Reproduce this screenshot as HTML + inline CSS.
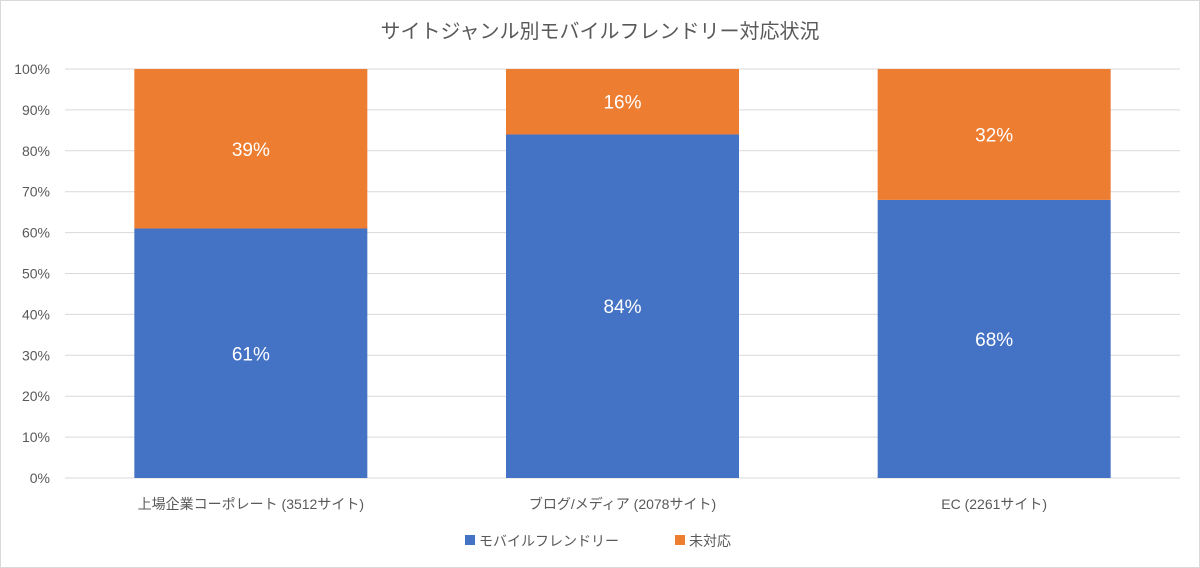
<!DOCTYPE html>
<html><head><meta charset="utf-8"><style>
body{margin:0;background:#fff;}
svg{display:block;font-family:"Liberation Sans","Noto Sans CJK JP",sans-serif;}
</style></head><body>
<svg id="chart" width="1200" height="568">
<rect x="0.5" y="0.5" width="1199" height="567" fill="#fff" stroke="#d9d9d9"/>
<text x="600" y="38" text-anchor="middle" font-size="20" fill="#595959">サイトジャンル別モバイルフレンドリー対応状況</text>
<g id="grid"></g><g id="bars"></g><g id="xlabels"></g>
<g>
<rect x="465" y="535" width="10" height="10" fill="#4472C4"/>
<text x="479" y="546" font-size="14" fill="#595959">モバイルフレンドリー</text>
<rect x="675" y="535" width="10" height="10" fill="#ED7D31"/>
<text x="689" y="546" font-size="14" fill="#595959">未対応</text>
</g>
</svg>
<script>
const categories=["上場企業コーポレート (3512サイト)","ブログ/メディア (2078サイト)","EC (2261サイト)"];
const friendly=[61,84,68];
const unsupported=[39,16,32];
const ticks=[0,10,20,30,40,50,60,70,80,90,100];
const NS="http://www.w3.org/2000/svg";
const x0=65,x1=1180,yTop=69,yBot=478;
const y=v=>yBot-(yBot-yTop)*v/100;
const band=(x1-x0)/categories.length;
const bw=233;
function mk(t,a,p){const e=document.createElementNS(NS,t);for(const k in a)e.setAttribute(k,a[k]);p.appendChild(e);return e;}
const grid=document.getElementById("grid");
ticks.forEach(t=>{
 const l=mk("line",{x1:x0,x2:x1,y1:y(t),y2:y(t),stroke:"#d9d9d9","stroke-width":1},grid);
 
 
 const tx=mk("text",{x:50,y:y(t)+5,"text-anchor":"end","font-size":14,fill:"#595959"},grid);
 tx.textContent=t+"%";
 
 
});
const bars=document.getElementById("bars"),xl=document.getElementById("xlabels");
categories.forEach((c,i)=>{
 const cx=x0+band*(i+0.5),bx=cx-bw/2;
 const f=friendly[i],u=unsupported[i];
 const r1=mk("rect",{x:bx,y:y(f),width:bw,height:y(0)-y(f),fill:"#4472C4"},bars);
 
 
 const r2=mk("rect",{x:bx,y:y(f+u),width:bw,height:y(f)-y(f+u),fill:"#ED7D31"},bars);
 
 
 const t1=mk("text",{x:cx,y:(y(0)+y(f))/2+7,"text-anchor":"middle","font-size":19,fill:"#fff"},bars);
 t1.textContent=f+"%";
 
 
 const t2=mk("text",{x:cx,y:(y(f)+y(f+u))/2+7,"text-anchor":"middle","font-size":19,fill:"#fff"},bars);
 t2.textContent=u+"%";
 
 
 const xt=mk("text",{x:cx,y:509,"text-anchor":"middle","font-size":14,fill:"#595959"},xl);
 xt.textContent=c;
 
 
});
</script>
</body></html>
